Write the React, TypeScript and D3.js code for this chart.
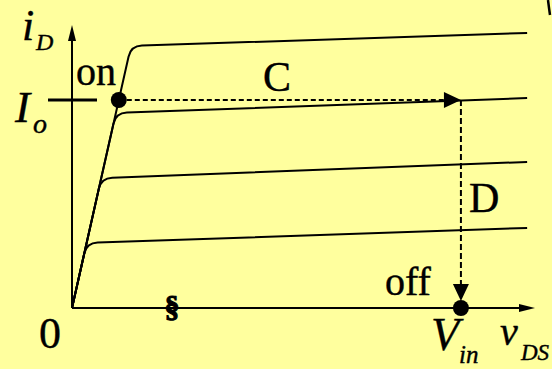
import React from "react";
import * as d3 from "d3";

// ---- data (iD in arbitrary units, vDS in arbitrary units) ----
const curveStartI = [9.26, 6.89, 4.59, 2.3]; // iD where each curve leaves the ohmic line
const curveEndI = [9.72, 7.42, 5.16, 2.83]; // iD at right end
const curveEndV = 9.83;
const ohmicK = 0.1375; // vDS per unit iD on the steep ohmic line
const Io = 7.35;
const Vin = 8.4;
const xMax = 10;
const yMax = 10;

const W = 552;
const H = 369;
const FONT = "Liberation Serif";

type Lbl = { s: string; x: number; y: number; size: number; italic?: boolean };
const labels: Lbl[] = [
  { s: "i", x: 22, y: 40, size: 44, italic: true },
  { s: "D", x: 36, y: 50, size: 24, italic: true },
  { s: "on", x: 76, y: 85, size: 40 },
  { s: "C", x: 263, y: 91, size: 42 },
  { s: "I", x: 15, y: 122, size: 45, italic: true },
  { s: "o", x: 33, y: 133, size: 28, italic: true },
  { s: "D", x: 469, y: 212, size: 42 },
  { s: "off", x: 385, y: 295, size: 40 },
  { s: "0", x: 39, y: 348, size: 44 },
  { s: "V", x: 431, y: 350, size: 46, italic: true },
  { s: "in", x: 459, y: 363, size: 25, italic: true },
  { s: "v", x: 500, y: 345, size: 40, italic: true },
  { s: "DS", x: 521, y: 360, size: 23, italic: true },
];

export default function App() {
  const x = d3.scaleLinear().domain([0, xMax]).range([72, 535]);
  const y = d3.scaleLinear().domain([0, yMax]).range([308, 25]);
  const r = 11;

  const curvePaths = curveStartI.map((ls, i) => {
    const le = curveEndI[i];
    const kx = x(ohmicK * ls);
    const ky = y(ls);
    const ox = x(0);
    const oy = y(0);
    const dx1 = kx - ox;
    const dy1 = ky - oy;
    const l1 = Math.hypot(dx1, dy1);
    const p1 = [kx - (dx1 / l1) * r, ky - (dy1 / l1) * r];
    const ex = x(curveEndV);
    const ey = y(le);
    const dx2 = ex - kx;
    const dy2 = ey - ky;
    const l2 = Math.hypot(dx2, dy2);
    const p2 = [kx + (dx2 / l2) * r, ky + (dy2 / l2) * r];
    const p = d3.path();
    p.moveTo(ox, oy);
    p.lineTo(p1[0], p1[1]);
    p.quadraticCurveTo(kx, ky, p2[0], p2[1]);
    p.lineTo(ex, ey);
    return p.toString();
  });

  const onX = x(ohmicK * Io);
  const onY = y(Io);
  const vinX = x(Vin);

  return (
    <svg
      width={W}
      height={H}
      style={{ position: "absolute", left: 0, top: 0, background: "#FFFF9E" }}
    >
      <rect x={0} y={0} width={W} height={H} fill="#FFFF9E" />
      {/* axes */}
      <line x1={x(0)} y1={y(0)} x2={x(xMax) - 12} y2={y(0)} stroke="#000" strokeWidth={2} />
      <polygon
        points={`${x(xMax)},${y(0)} ${x(xMax) - 16},${y(0) - 4} ${x(xMax) - 16},${y(0) + 4}`}
        fill="#000"
      />
      <line x1={x(0)} y1={y(0)} x2={x(0)} y2={y(yMax) + 12} stroke="#000" strokeWidth={2} />
      <polygon
        points={`${x(0)},${y(yMax)} ${x(0) - 4},${y(yMax) + 16} ${x(0) + 4},${y(yMax) + 16}`}
        fill="#000"
      />
      {/* Io tick */}
      <line x1={48} y1={y(Io)} x2={97} y2={y(Io)} stroke="#000" strokeWidth={3} />

      {/* curves */}
      {curvePaths.map((d, i) => (
        <path key={i} d={d} fill="none" stroke="#000" strokeWidth={2} />
      ))}

      {/* dashed path C */}
      <line
        x1={onX}
        y1={onY}
        x2={vinX - 17}
        y2={onY}
        stroke="#000"
        strokeWidth={2}
        strokeDasharray="5,3"
      />
      <polygon
        points={`${vinX},${onY} ${vinX - 17},${onY - 8} ${vinX - 17},${onY + 8}`}
        fill="#000"
      />
      {/* dashed path D */}
      <line
        x1={vinX}
        y1={onY}
        x2={vinX}
        y2={y(0) - 22}
        stroke="#000"
        strokeWidth={2}
        strokeDasharray="6,3"
      />
      <polygon
        points={`${vinX},${y(0) - 7} ${vinX - 8},${y(0) - 24} ${vinX + 8},${y(0) - 24}`}
        fill="#000"
      />
      {/* dots */}
      <circle cx={onX} cy={onY} r={8} fill="#000" />
      <circle cx={vinX} cy={y(0)} r={8} fill="#000" />

      {/* break mark */}
      <text
        x={172}
        y={317}
        fontFamily={FONT}
        fontSize={30}
        fontWeight="bold"
        textAnchor="middle"
        stroke="#000"
        strokeWidth={1.2}
      >
        §
      </text>

      {/* stray mark top right */}
      <path d="M548,0 Q549,8 550,15" fill="none" stroke="#000" strokeWidth={2.5} />

      {/* labels */}
      {labels.map((l, i) => (
        <text
          key={i}
          x={l.x}
          y={l.y}
          fontFamily={FONT}
          fontSize={l.size}
          fontStyle={l.italic ? "italic" : "normal"}
          fill="#000"
          stroke="#000"
          strokeWidth={0.4}
        >
          {l.s}
        </text>
      ))}
    </svg>
  );
}
